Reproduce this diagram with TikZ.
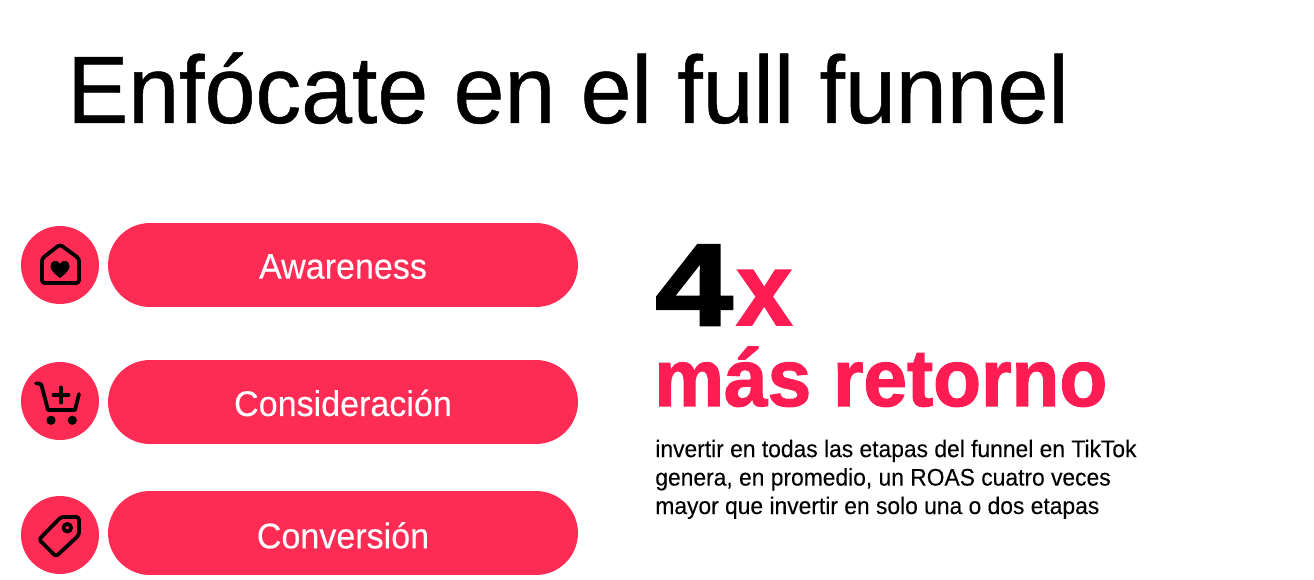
\documentclass[tikz,border=0pt]{standalone}
\usepackage{fontspec}
\setmainfont{Liberation Sans}[FakeStretch=0.955,FakeBold=0.15]
\newfontfamily\titlefam[FakeStretch=0.955,FakeBold=0.5]{Liberation Sans}
\newfontfamily\boldfam[FakeStretch=0.97,FakeBold=1.6]{Liberation Sans Bold}
\newfontfamily\heavyfam[FakeStretch=1.2,FakeBold=2.2]{Liberation Sans Bold}
\usetikzlibrary{positioning}
\definecolor{pillred}{HTML}{FE2C55}
\definecolor{textred}{HTML}{FE1C52}
\tikzset{
  pill/.style={fill=pillred,rounded corners=0.84cm,minimum width=9.4cm,minimum height=1.68cm,inner sep=0,text=white,text depth=0pt,font=\fontsize{20.3}{22}\selectfont},
  round/.style={circle,fill=pillred,minimum size=1.56cm,inner sep=0},
  icon/.style={draw=black,line width=0.075cm,line join=round,line cap=round},
  word/.style={anchor=base west,inner sep=0}
}
\begin{document}
\begin{tikzpicture}[x=0.02cm,y=-0.02cm]
\useasboundingbox (0,0) rectangle (1314,580);
\node[word,font=\titlefam\fontsize{54.5}{60}\selectfont] (title) at (67,123) {Enfócate en el full funnel};
% pills and circles
\node[pill,text height=0.548cm] (awareness) at (343,265) {Awareness};
\node[pill,text height=0.56cm] (consideracion) at (343,402) {Consideración};
\node[pill,text height=0.612cm] (conversion) at (343,533) {Conversión};
\node[round] (home) at (60,265) {};
\node[round] (cart) at (60,401) {};
\node[round] (tag) at (60,535) {};
% icons
\draw[icon,rounded corners=1.5] (60,244.5) -- (79,258.5) -- (79,283) -- (42,283) -- (42,258.5) -- cycle;
\fill (60,278) .. controls (52,272) and (50.5,269) .. (50.5,266) .. controls (50.5,260) and (58,259) .. (60,264) .. controls (62,259) and (69.5,260) .. (69.5,266) .. controls (69.5,269) and (68,272) .. (60,278) -- cycle;
\draw[icon] (36,383.5) -- (39,383.5) .. controls (41,383.5) and (41.5,385) .. (42,387) -- (48,410) -- (75,410) -- (79,394);
\draw[icon] (53.5,395) -- (68.5,395) (61,387.5) -- (61,402.5);
\fill (51,420.3) circle (4.6) (72.3,420.3) circle (4.6);
\draw[icon,rounded corners=1.5] (61,517) -- (79,517) -- (79,535) -- (56,556.5) -- (39,539.5) -- cycle;
\draw[icon] (67.3,527.7) circle (3.8);
% right side
\node[word,font=\heavyfam\fontsize{66}{80}\selectfont] (four) at (655,325) {4};
\node[word,text=textred,font=\boldfam\fontsize{59}{70}\selectfont] (times) at (736,325) {x};
\node[word,text=textred,font=\boldfam\fontsize{46}{50}\selectfont] (retorno) at (654,406) {más retorno};
\node[word,font=\fontsize{13.6}{16.2}\selectfont,align=left] (copy) at (655,514) {invertir en todas las etapas del funnel en TikTok\\genera, en promedio, un ROAS cuatro veces\\mayor que invertir en solo una o dos etapas};
\end{tikzpicture}
\end{document}
